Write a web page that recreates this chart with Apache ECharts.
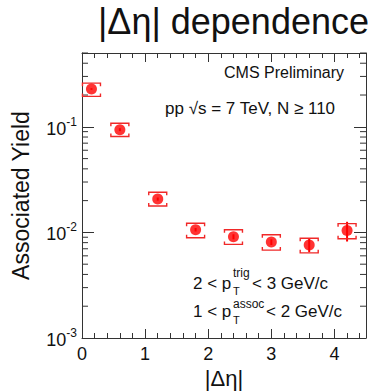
<!DOCTYPE html>
<html><head><meta charset="utf-8">
<script src="https://cdn.jsdelivr.net/npm/echarts@6/dist/echarts.min.js"></script>
<style>html,body{margin:0;padding:0;background:#fff}#c{width:368px;height:392px}</style>
</head><body><div id="c"></div>
<script>
// ---- data ----
const etaCenters = [0.15, 0.6, 1.2, 1.8, 2.4, 3.0, 3.6, 4.2];
const yieldValues = [0.228, 0.094, 0.0207, 0.0106, 0.0091, 0.0081, 0.0076, 0.0104];
const statErrors = [0.004, 0.003, 0.0007, 0.0004, 0.0005, 0.0005, 0.0011, 0.0022];
const sysLow = [0.194, 0.081, 0.0178, 0.0089, 0.0077, 0.0068, 0.0064, 0.0087];
const sysHigh = [0.259, 0.108, 0.024, 0.0122, 0.0106, 0.0095, 0.0088, 0.0121];
const xTickLabels = ['0', '1', '2', '3', '4'];
const yDecades = [-3, -2, -1];

const FONT = '"Liberation Sans", Arial, Helvetica, sans-serif';
const INK = '#111';
const AX = '#333';

// minor log ticks (2..9 x 10^k)
const yMinorTicks = [];
yDecades.forEach(k => { for (let m = 2; m <= 9; m++) { const v = m * Math.pow(10, k); if (v <= 0.5 + 1e-9) yMinorTicks.push([0, v]); } });

const pointData = etaCenters.map((x, i) => [x, yieldValues[i]]);
const errData = etaCenters.map((x, i) => [x, yieldValues[i], yieldValues[i] - statErrors[i], yieldValues[i] + statErrors[i], sysLow[i], sysHigh[i]]);

const chart = echarts.init(document.getElementById('c'), null, {renderer: 'svg'});

function xAxisDef(pos, interval, tickLen, showLabels, showLine, name) {
  return {
    type: 'value', position: pos, min: 0, max: 4.5, interval: interval,
    axisLine: {show: showLine, onZero: false, lineStyle: {color: AX, width: 1}},
    axisTick: {show: true, inside: true, length: tickLen, lineStyle: {color: AX, width: 1}},
    axisLabel: {show: showLabels, margin: 7, fontSize: 18, fontFamily: FONT, color: INK,
      formatter: v => (Math.abs(v - Math.round(v)) < 1e-9 && xTickLabels.indexOf(String(Math.round(v))) >= 0) ? String(Math.round(v)) : ''},
    splitLine: {show: false},
    name: name || '', nameLocation: 'middle', nameGap: 29,
    nameTextStyle: {fontSize: 22, fontFamily: FONT, color: INK}
  };
}
function yAxisDef(pos, showLabels) {
  return {
    type: 'log', logBase: 10, position: pos, min: 0.001, max: 0.5,
    axisLine: {show: true, onZero: false, lineStyle: {color: AX, width: 1}},
    axisTick: {show: true, inside: true, length: 12, lineStyle: {color: AX, width: 1}},
    axisLabel: {show: showLabels, margin: 5, fontFamily: FONT, color: INK,
      formatter: v => { const e = Math.log10(v); const r = Math.round(e); if (Math.abs(e - r) > 1e-6 || yDecades.indexOf(r) < 0) return ''; return '{b|10}{s|' + r + '}'; },
      rich: {b: {fontSize: 18, fontFamily: FONT, color: INK, verticalAlign: 'bottom', lineHeight: 22},
             s: {fontSize: 12, fontFamily: FONT, color: INK, verticalAlign: 'top', lineHeight: 22, padding: [0, 0, 6, 0]}}},
    splitLine: {show: false},
    name: showLabels ? 'Associated Yield' : '', nameLocation: 'middle', nameGap: 50, nameRotate: 90,
    nameTextStyle: {fontSize: 23, fontFamily: FONT, color: INK}
  };
}

const option = {
  animation: false,
  backgroundColor: '#fff',
  title: {text: '|Δη| dependence', left: 98, top: 3, padding: 0,
    textStyle: {fontSize: 36, fontWeight: 'normal', fontFamily: FONT, color: INK}},
  grid: {left: 82, right: 2, top: 53, bottom: 54, containLabel: false, outerBoundsMode: 'none'},
  xAxis: [
    xAxisDef('bottom', 1, 9, true, true, '|Δη|'),
    xAxisDef('bottom', 0.2, 5, false, false),
    xAxisDef('top', 1, 9, false, true),
    xAxisDef('top', 0.2, 5, false, false)
  ],
  yAxis: [yAxisDef('left', true), yAxisDef('right', false)],
  series: [
    {
      type: 'custom', xAxisIndex: 0, yAxisIndex: 0, silent: true, clip: false, z: 1,
      data: yMinorTicks,
      renderItem: (params, api) => {
        const cs = params.coordSys;
        const y = api.coord([0, api.value(1)])[1];
        return {type: 'group', children: [
          {type: 'line', shape: {x1: cs.x, y1: y, x2: cs.x + 6, y2: y}, style: {stroke: AX, lineWidth: 1}},
          {type: 'line', shape: {x1: cs.x + cs.width - 6, y1: y, x2: cs.x + cs.width, y2: y}, style: {stroke: AX, lineWidth: 1}}
        ]};
      }
    },
    {
      type: 'custom', xAxisIndex: 0, yAxisIndex: 0, silent: true, z: 2,
      data: errData,
      renderItem: (params, api) => {
        const x = api.value(0);
        const pLo = api.coord([x, api.value(2)]);
        const pHi = api.coord([x, api.value(3)]);
        const sLo = api.coord([x, api.value(4)]);
        const sHi = api.coord([x, api.value(5)]);
        const hw = 9, tk = 3;
        const st = {stroke: '#f02828', lineWidth: 1.4, fill: 'none'};
        return {type: 'group', children: [
          {type: 'line', shape: {x1: pLo[0], y1: pLo[1], x2: pHi[0], y2: pHi[1]}, style: {stroke: '#ff0000', lineWidth: 2}},
          {type: 'polyline', shape: {points: [[sHi[0] - hw, sHi[1] + tk], [sHi[0] - hw, sHi[1]], [sHi[0] + hw, sHi[1]], [sHi[0] + hw, sHi[1] + tk]]}, style: st},
          {type: 'polyline', shape: {points: [[sLo[0] - hw, sLo[1] - tk], [sLo[0] - hw, sLo[1]], [sLo[0] + hw, sLo[1]], [sLo[0] + hw, sLo[1] - tk]]}, style: st}
        ]};
      }
    },
    {
      type: 'scatter', xAxisIndex: 0, yAxisIndex: 0, z: 3,
      data: pointData, symbol: 'circle', symbolSize: 11,
      itemStyle: {color: '#ff0000'}
    }
  ],
  graphic: [
    {type: 'text', x: 224, y: 72, style: {text: 'CMS Preliminary', fontSize: 16, fontFamily: FONT, fill: INK, align: 'left', verticalAlign: 'middle'}},
    {type: 'text', x: 165, y: 108, style: {text: 'pp \u221As = 7 TeV, N \u2265 110', fontSize: 17, fontFamily: FONT, fill: INK, align: 'left', verticalAlign: 'middle'}},
    {type: 'text', x: 193, y: 283, style: {text: '2 < p', fontSize: 17, fontFamily: FONT, fill: INK, align: 'left', verticalAlign: 'middle'}},
    {type: 'text', x: 233, y: 273, style: {text: 'trig', fontSize: 12, fontFamily: FONT, fill: INK, align: 'left', verticalAlign: 'middle'}},
    {type: 'text', x: 233, y: 291, style: {text: 'T', fontSize: 11, fontFamily: FONT, fill: INK, align: 'left', verticalAlign: 'middle'}},
    {type: 'text', x: 252, y: 283, style: {text: '< 3 GeV/c', fontSize: 17, fontFamily: FONT, fill: INK, align: 'left', verticalAlign: 'middle'}},
    {type: 'text', x: 193, y: 311, style: {text: '1 < p', fontSize: 17, fontFamily: FONT, fill: INK, align: 'left', verticalAlign: 'middle'}},
    {type: 'text', x: 233, y: 303.5, style: {text: 'assoc', fontSize: 12, fontFamily: FONT, fill: INK, align: 'left', verticalAlign: 'middle'}},
    {type: 'text', x: 233, y: 320, style: {text: 'T', fontSize: 11, fontFamily: FONT, fill: INK, align: 'left', verticalAlign: 'middle'}},
    {type: 'text', x: 266, y: 311, style: {text: '< 2 GeV/c', fontSize: 17, fontFamily: FONT, fill: INK, align: 'left', verticalAlign: 'middle'}}
  ]
};
chart.setOption(option);
</script></body></html>
